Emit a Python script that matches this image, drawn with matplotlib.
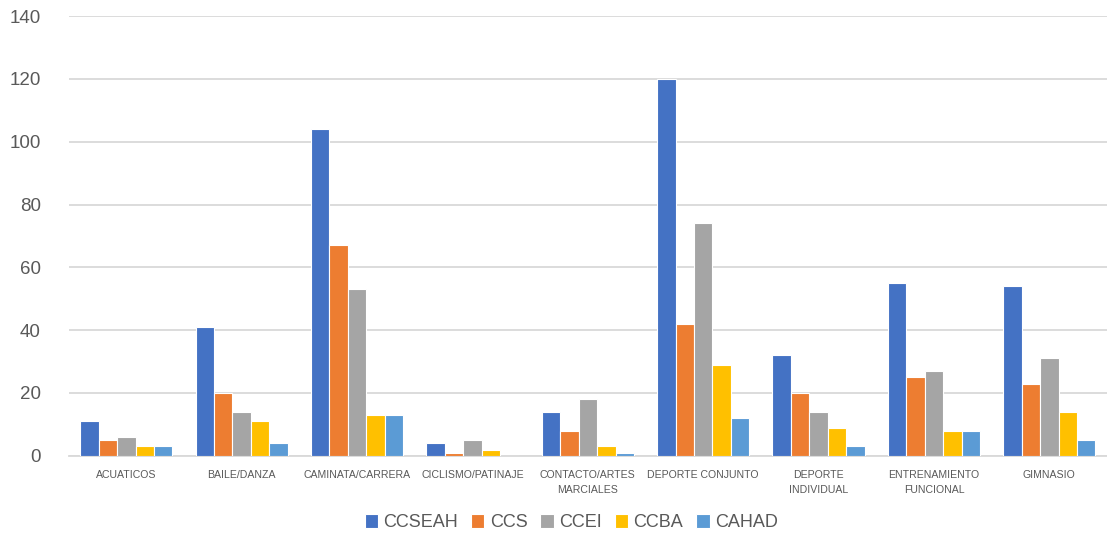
import numpy as np
import matplotlib.pyplot as plt

categorias = ["ACUATICOS", "BAILE/DANZA", "CAMINATA/CARRERA", "CICLISMO/PATINAJE",
              "CONTACTO/ARTES\nMARCIALES", "DEPORTE CONJUNTO", "DEPORTE\nINDIVIDUAL",
              "ENTRENAMIENTO\nFUNCIONAL", "GIMNASIO"]

ccseah = [11, 41, 104, 4, 14, 120, 32, 55, 54]
ccs = [5, 20, 67, 1, 8, 42, 20, 25, 23]
ccei = [6, 14, 53, 5, 18, 74, 14, 27, 31]
ccba = [3, 11, 13, 2, 3, 29, 9, 8, 14]
cahad = [3, 4, 13, 0, 1, 12, 3, 8, 5]

series = ["CCSEAH", "CCS", "CCEI", "CCBA", "CAHAD"]
colores = ["#4472C4", "#ED7D31", "#A5A5A5", "#FFC000", "#5B9BD5"]
valores = [ccseah, ccs, ccei, ccba, cahad]

plt.rcParams['font.family'] = ['Liberation Sans', 'DejaVu Sans']
gris = "#595959"

fig = plt.figure(figsize=(11.07, 5.35), dpi=100)
ax = fig.add_axes([0.062, 0.148, 0.938, 0.822])

x = np.arange(len(categorias))
ancho = 0.16
for i, (nombre, col, vals) in enumerate(zip(series, colores, valores)):
    ax.bar(x + (i - 2) * ancho, vals, ancho, color=col, edgecolor="white",
           linewidth=0.8, label=nombre, zorder=3)

ax.set_xlim(-0.5, len(categorias) - 0.5)
ax.set_ylim(0, 140)
ax.set_yticks(range(0, 141, 20))
ax.grid(axis="y", color="#D9D9D9", linewidth=1.3, zorder=0)
for s in ["top", "right", "left"]:
    ax.spines[s].set_visible(False)
ax.spines["bottom"].set_color("#D9D9D9")
ax.spines["bottom"].set_linewidth(1.3)

ax.set_xticks(x)
ax.set_xticklabels(categorias, fontsize=7.6, color=gris, linespacing=1.6)
ax.tick_params(axis="x", length=0, pad=10)
ax.tick_params(axis="y", length=0, labelsize=13.5, labelcolor=gris, pad=20)

ax.legend(loc="upper center", bbox_to_anchor=(0.484, -0.095), ncol=5, frameon=False,
          fontsize=13, labelcolor=gris, handlelength=0.75, handleheight=0.8,
          handletextpad=0.3, columnspacing=0.7)

fig.savefig("out.png", dpi=100)
